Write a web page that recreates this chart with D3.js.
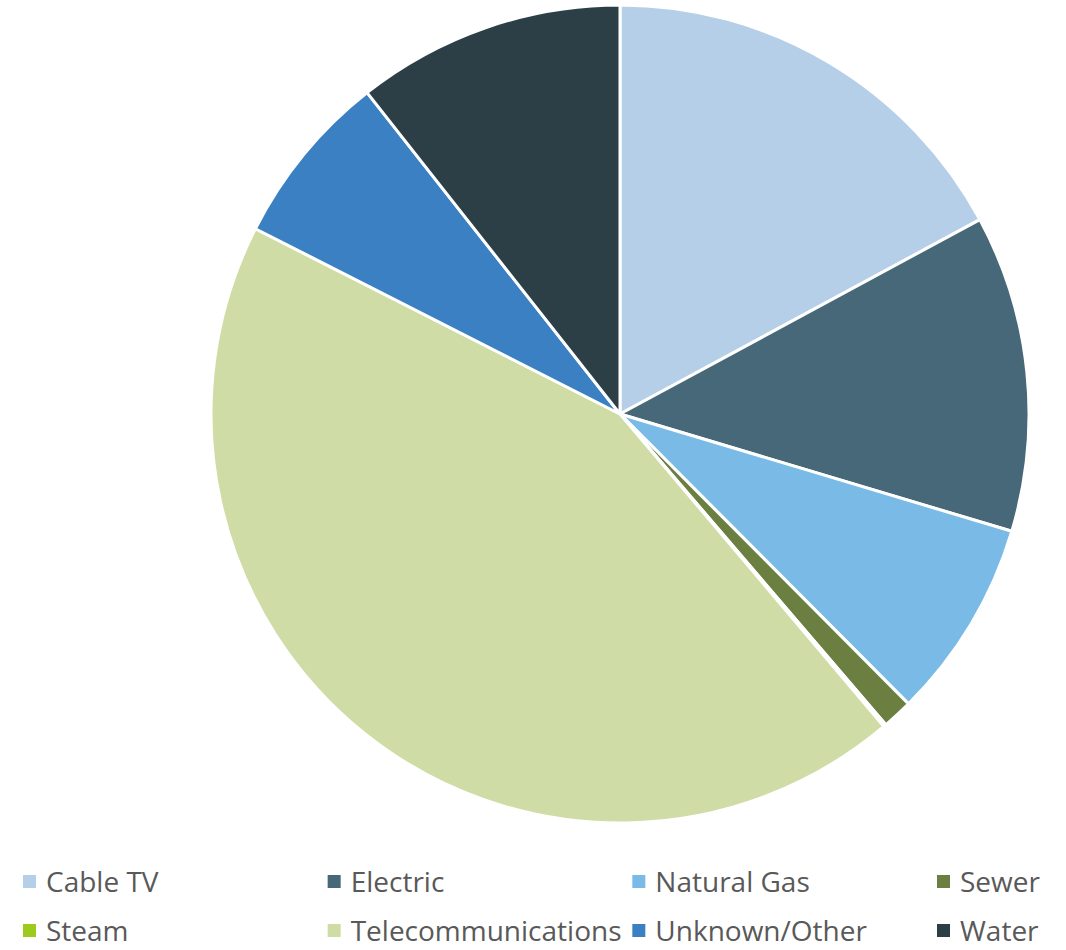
<!DOCTYPE html>
<html lang="en">
<head>
    <meta charset="UTF-8">
    <title>Pie</title>
    <style>
        body { margin: 0; background: #fff; }
        text { font-family: "Open Sans", sans-serif; fill: #595959; }
    </style>
</head>
<body>
<svg id="svg" width="1066" height="950"></svg>
<script src="https://cdn.jsdelivr.net/npm/d3@7"></script>
<script>
    var categories = ["Cable TV", "Electric", "Natural Gas", "Sewer", "Steam", "Telecommunications", "Unknown/Other", "Water"];
    var values = [17.1, 12.5, 7.9, 1.2, 0.1, 43.6, 6.9, 10.6];
    var colors = ["#B4CFE7", "#476878", "#7ABAE7", "#6B8040", "#9CCB1E", "#D0DCA6", "#3A80C2", "#2C3F47"];

    var datos = categories.map(function (c, i) {
        return {name: c, value: values[i]};
    });

    var svg = d3.select("#svg");
    var cx = 620, cy = 414, radius = 409;

    var pie = d3.pie().sort(null).value(function (d) { return d.value; });
    var arc = d3.arc().innerRadius(0).outerRadius(radius);
    var color = d3.scaleOrdinal().domain(categories).range(colors);

    svg.append("g")
        .attr("transform", "translate(" + cx + "," + cy + ")")
        .selectAll("path")
        .data(pie(datos))
        .enter().append("path")
        .attr("d", arc)
        .attr("fill", function (d) { return color(d.data.name); })
        .attr("stroke", "#fff")
        .attr("stroke-width", 3)
        .attr("stroke-linejoin", "round");

    // legend, 4 columns x 2 rows
    var colX = d3.scalePoint().domain([0, 1, 2, 3]).range([23, 937]);
    var rowY = d3.scalePoint().domain([0, 1]).range([882, 931]);

    var items = svg.append("g").selectAll("g")
        .data(datos)
        .enter().append("g")
        .attr("transform", function (d, i) {
            return "translate(" + colX(i % 4) + "," + rowY(Math.floor(i / 4)) + ")";
        });

    items.append("rect")
        .attr("x", 0).attr("y", -7)
        .attr("width", 13).attr("height", 13)
        .attr("fill", function (d) { return color(d.name); });

    items.append("text")
        .attr("x", 23)
        .attr("y", 0)
        .attr("dy", "0.36em")
        .style("font-size", "28px")
        .text(function (d) { return d.name; });
</script>
</body>
</html>
